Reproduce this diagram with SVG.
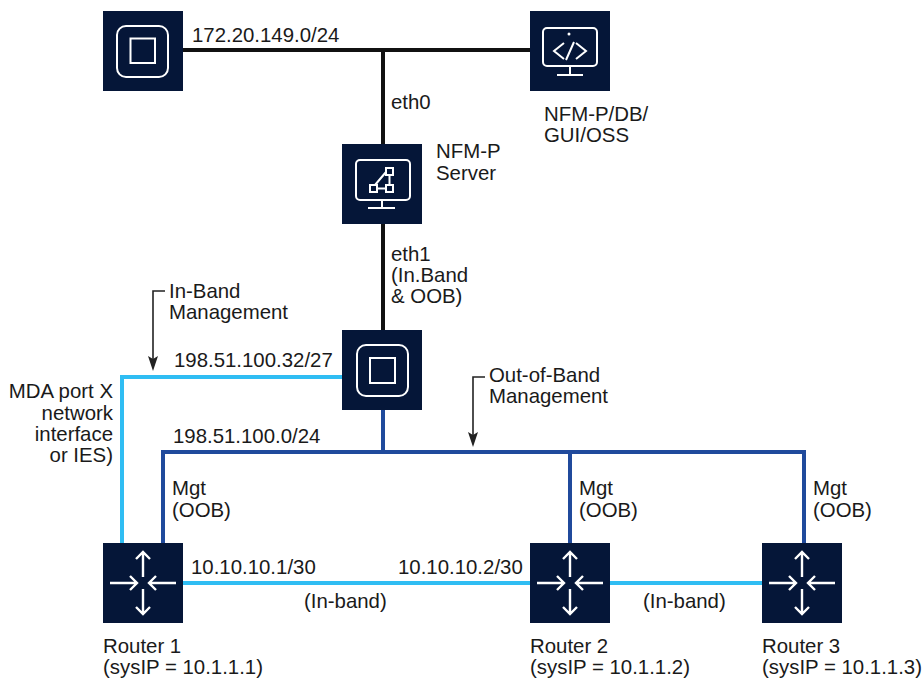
<svg xmlns="http://www.w3.org/2000/svg" width="923" height="680" viewBox="0 0 923 680">
<style>
text{font-family:"Liberation Sans",Arial,sans-serif;font-size:20.4px;fill:#1a1a1a}
.e{text-anchor:end}
.n{fill:#051638}
.i{fill:none;stroke:#fff;stroke-width:2}
.a{fill:none;stroke:#fff;stroke-width:2.4}
.k{fill:none;stroke:#111;stroke-width:4}
.c{fill:none;stroke:#2fbdf3;stroke-width:4}
.b{fill:none;stroke:#204a9c;stroke-width:4}
.l{fill:none;stroke:#222;stroke-width:1.6}
.h{fill:#222}
</style>
<rect width="923" height="680" fill="#fff"/>
<g id="connectors">
<path class="k" d="M172 50H532M383 50V144M383 224V330"/>
<path class="c" d="M342 377H122V543"/>
<path class="b" d="M383 410V452M163 543V452H804V543M570 452V543"/>
<path class="c" d="M182 583H530M610 583H763"/>
<path class="l" d="M165 291H153V360"/>
<path class="h" d="M148 356L153 359L158 356L153 371Z"/>
<path class="l" d="M485 377H473V436"/>
<path class="h" d="M468 432L473 435L478 432L473 447Z"/>
</g>
<g id="n-switch-top">
<rect class="n" x="103" y="11" width="80" height="80"/>
<rect class="i" x="117" y="26" width="51" height="51" rx="9"/>
<rect class="i" x="130.500" y="38.500" width="24.500" height="24.500"/>
</g>
<g id="n-oss">
<rect class="n" x="530" y="11" width="80" height="80"/>
<rect class="i" x="543" y="28" width="54" height="38" rx="4"/>
<path class="i" d="M570 66V75M557 75H583M564 43L554 51L564 59M576 43L586 51L576 59M574 42L566 60"/>
<circle cx="569" cy="34" r="1.5" fill="#fff"/>
</g>
<g id="n-server">
<rect class="n" x="342" y="144" width="80" height="80"/>
<rect class="i" x="356" y="160" width="54" height="40" rx="4"/>
<path class="i" d="M382 200V208M368 208H395"/>
<rect class="i" x="370" y="185" width="7" height="7"/>
<rect class="i" x="386" y="185" width="7" height="7"/>
<rect class="i" x="386" y="168" width="7" height="7"/>
<path class="i" d="M377 188.500H386M389.500 175V185M375 185L386 172"/>
</g>
<g id="n-switch-mid">
<rect class="n" x="342" y="330" width="80" height="80"/>
<rect class="i" x="357" y="345" width="51" height="51" rx="9"/>
<rect class="i" x="370" y="358" width="25" height="25"/>
</g>
<g id="n-router1">
<rect class="n" x="103" y="543" width="80" height="80"/>
<path class="a" d="M143 552V577M136 559L143 552L150 559M143 589V614M136 607L143 614L150 607M110 583H137M130 576L137 583L130 590M176 583H149M156 576L149 583L156 590"/>
</g>
<g id="n-router2">
<rect class="n" x="530" y="543" width="80" height="80"/>
<path class="a" d="M570 552V577M563 559L570 552L577 559M570 589V614M563 607L570 614L577 607M537 583H564M557 576L564 583L557 590M603 583H576M583 576L576 583L583 590"/>
</g>
<g id="n-router3">
<rect class="n" x="762" y="543" width="80" height="80"/>
<path class="a" d="M802 552V577M795 559L802 552L809 559M802 589V614M795 607L802 614L809 607M769 583H796M789 576L796 583L789 590M835 583H808M815 576L808 583L815 590"/>
</g>
<g id="labels">
<text x="192" y="42">172.20.149.0/24</text>
<text x="391" y="109">eth0</text>
<text x="544" y="121">NFM-P/DB/</text><text x="544" y="142">GUI/OSS</text>
<text x="436" y="158">NFM-P</text><text x="436" y="180">Server</text>
<text x="391" y="261">eth1</text><text x="391" y="282">(In.Band</text><text x="391" y="303">&amp; OOB)</text>
<text x="169" y="298">In-Band</text><text x="169" y="319">Management</text>
<text x="174" y="367">198.51.100.32/27</text>
<text x="489" y="382">Out-of-Band</text><text x="489" y="403">Management</text>
<text class="e" x="113" y="398">MDA port X</text><text class="e" x="113" y="420">network</text><text class="e" x="113" y="441">interface</text><text class="e" x="113" y="462">or IES)</text>
<text x="173" y="443">198.51.100.0/24</text>
<text x="172" y="495">Mgt</text><text x="172" y="517">(OOB)</text>
<text x="579" y="495">Mgt</text><text x="579" y="517">(OOB)</text>
<text x="813" y="495">Mgt</text><text x="813" y="517">(OOB)</text>
<text x="191" y="574">10.10.10.1/30</text>
<text x="398" y="574">10.10.10.2/30</text>
<text x="304" y="608">(In-band)</text>
<text x="643" y="608">(In-band)</text>
<text x="103" y="653">Router 1</text><text x="103" y="674">(sysIP = 10.1.1.1)</text>
<text x="530" y="653">Router 2</text><text x="530" y="674">(sysIP = 10.1.1.2)</text>
<text x="762" y="653">Router 3</text><text x="762" y="674">(sysIP = 10.1.1.3)</text>
</g>
</svg>
